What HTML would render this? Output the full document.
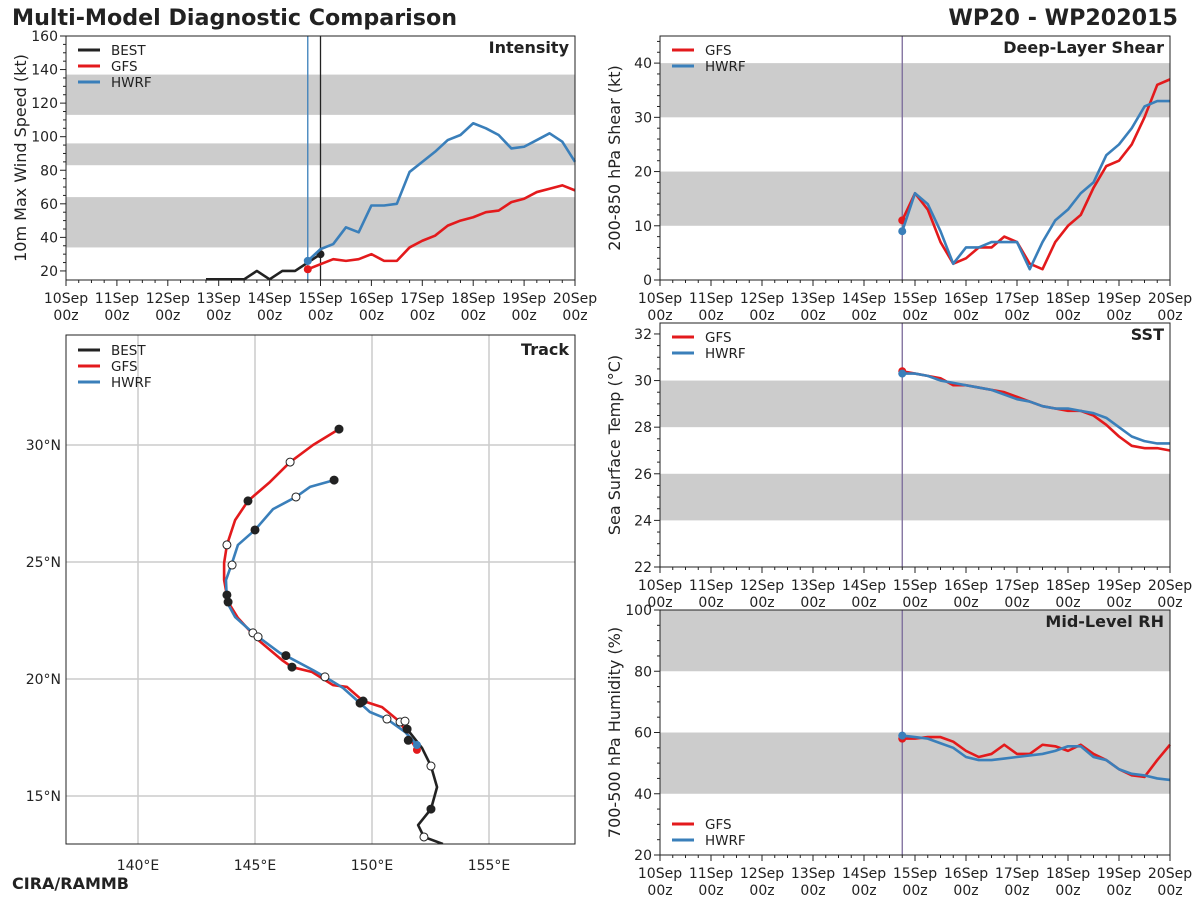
<!DOCTYPE html>
<html><head><meta charset="utf-8">
<style>
body{margin:0;background:#fff;}
svg{display:block;font-family:"DejaVu Sans","Liberation Sans",sans-serif;}
</style></head>
<body>
<svg id="chart" width="1200" height="900" viewBox="0 0 1200 900" xmlns="http://www.w3.org/2000/svg">
<text x="12" y="25" font-size="22.2" font-weight="bold" fill="#222">Multi-Model Diagnostic Comparison</text>
<text x="1178" y="25" font-size="22.2" font-weight="bold" fill="#222" text-anchor="end">WP20 - WP202015</text>
<text x="12" y="889" font-size="16" font-weight="bold" fill="#222">CIRA/RAMMB</text>
</svg>
<script>
// ---- data ----
const dayLabels=["10Sep","11Sep","12Sep","13Sep","14Sep","15Sep","16Sep","17Sep","18Sep","19Sep","20Sep"];
const bestT=[2.75,3.0,3.25,3.5,3.75,4.0,4.25,4.5,4.75,5.0];
const bestV=[15,15,15,15,20,15,20,20,25,30];
const modelT0=4.75;
const gfsInt=[21,24,27,26,27,30,26,26,34,38,41,47,50,52,55,56,61,63,67,69,71,68];
const hwrfInt=[26,33,36,46,43,59,59,60,79,85,91,98,101,108,105,101,93,94,98,102,97,85];
const gfsShear=[11,16,13,7,3,4,6,6,8,7,3,2,7,10,12,17,21,22,25,30,36,37];
const hwrfShear=[9,16,14,9,3,6,6,7,7,7,2,7,11,13,16,18,23,25,28,32,33,33];
const gfsSST=[30.4,30.3,30.2,30.1,29.8,29.8,29.7,29.6,29.5,29.3,29.1,28.9,28.8,28.7,28.7,28.5,28.1,27.6,27.2,27.1,27.1,27.0];
const hwrfSST=[30.3,30.3,30.2,30.0,29.9,29.8,29.7,29.6,29.4,29.2,29.1,28.9,28.8,28.8,28.7,28.6,28.4,28.0,27.6,27.4,27.3,27.3];
const gfsRH=[58,58,58.5,58.5,57,54,52,53,56,53,53,56,55.5,54,56,53,51,48,46,45.5,51,56];
const hwrfRH=[59,58.5,58,56.5,55,52,51,51,51.5,52,52.5,53,54,55.5,55.5,52,51,48,46.5,46,45,44.5];
const gfsLon=[151.92,151.20,150.43,149.62,148.93,148.33,147.44,146.58,146.15,145.13,144.27,143.85,143.68,143.68,143.80,144.15,144.70,145.64,146.50,147.48,148.59];
const gfsLat=[16.97,18.16,18.80,19.06,19.66,19.74,20.30,20.51,20.81,21.67,22.61,23.29,24.23,24.96,25.73,26.79,27.61,28.42,29.27,30.00,30.68];
const hwrfLon=[151.92,151.41,150.64,149.91,149.49,148.76,147.99,147.48,146.50,146.07,144.91,144.15,143.80,143.76,144.02,144.27,145.00,145.77,146.75,147.35,148.38];
const hwrfLat=[17.18,17.74,18.29,18.59,18.97,19.62,20.09,20.38,20.90,21.11,21.97,22.65,23.29,24.23,24.96,25.73,26.37,27.26,27.78,28.21,28.50];
const bestLon=[153.03,152.22,151.97,152.52,152.78,152.52,152.14,151.50];
const bestLat=[12.95,13.25,13.76,14.44,15.38,16.28,17.05,17.86];
const mkLon=[148.59,146.50,144.70,143.80,143.85,144.91,146.58,149.62,151.20,151.55, 148.38,146.75,145.00,144.02,143.80,145.13,146.32,147.99,149.49,150.64,151.41, 152.22,152.52,152.52,151.50];
const mkLat=[30.68,29.27,27.61,25.73,23.29,21.97,20.51,19.06,18.16,17.38, 28.50,27.78,26.37,24.87,23.59,21.80,21.00,20.09,18.97,18.29,18.20, 13.25,14.44,16.28,17.86];
const mkFill=[1,0,1,0,1,0,1,1,0,1, 1,0,1,0,1,0,1,0,1,0,0, 0,1,0,1];

const NS="http://www.w3.org/2000/svg";
const svg=document.getElementById('chart');
function el(tag,attrs,parent){const e=document.createElementNS(NS,tag);for(const k in attrs)e.setAttribute(k,attrs[k]);(parent||svg).appendChild(e);return e;}
const RED="#e31a1c",BLUE="#3a7fba",BLK="#222";

function timePanel(p){
  const g=el('g',{});
  
  
  const X=t=>p.x0+(p.x1-p.x0)*t/10;
  const Y=v=>p.y1-(p.y1-p.y0)*(v-p.ymin)/(p.ymax-p.ymin);
  p.bands.forEach(b=>{
    const r=el('rect',{x:p.x0,y:Y(Math.min(b[1],p.ymax)),width:p.x1-p.x0,height:Y(b[0])-Y(Math.min(b[1],p.ymax)),fill:"#cccccc"},g);
    
    
  });
  for(let i=0;i<=40;i++){const x=X(i/4);el('line',{x1:x,x2:x,y1:p.y1,y2:p.y1+(i%4?3:6),stroke:BLK,'stroke-width':1},g);}
  dayLabels.forEach((d,i)=>{
    const t=el('text',{x:X(i),y:p.y1+23,'font-size':14,'text-anchor':'middle',fill:BLK},g);
    
    
    t.textContent=d;
    const t2=el('text',{x:X(i),y:p.y1+40,'font-size':14,'text-anchor':'middle',fill:BLK},g);t2.textContent="00z";
  });
  for(let v=p.ymin0;v<=p.ymax+1e-6;v+=p.minor){const y=Y(v);const isMaj=Math.abs(((v-p.ymin0)/p.major)-Math.round((v-p.ymin0)/p.major))<1e-6;el('line',{x1:p.x0,x2:p.x0-(isMaj?6:3),y1:y,y2:y,stroke:BLK},g);}
  for(let v=p.ymin0;v<=p.ymax+1e-6;v+=p.major){
    const t=el('text',{x:p.x0-8,y:Y(v)+5,'font-size':14,'text-anchor':'end',fill:BLK},g);
    
    
    t.textContent=v;
  }
  const yt=el('text',{x:0,y:0,'font-size':16,'text-anchor':'middle',fill:BLK,transform:`translate(${p.x0-40},${(p.y0+p.y1)/2}) rotate(-90)`},g);
  
  
  yt.textContent=p.ytitle;
  (p.vlines||[]).forEach(v=>el('line',{x1:X(v[0]),x2:X(v[0]),y1:p.y0,y2:p.y1,stroke:v[1],'stroke-width':1.3},g));
  p.series.forEach(s=>{
    const pts=s.v.map((v,i)=>X((s.t?s.t[i]:modelT0+i*0.25))+","+Y(v)).join(" ");
    const pl=el('polyline',{points:pts,fill:'none',stroke:s.c,'stroke-width':2.6,'stroke-linejoin':'round'},g);
    
    
    const i0=s.dotEnd?s.v.length-1:0;
    el('circle',{cx:X(s.t?s.t[i0]:modelT0),cy:Y(s.v[i0]),r:4,fill:s.c},g);
  });
  el('rect',{x:p.x0,y:p.y0,width:p.x1-p.x0,height:p.y1-p.y0,fill:'none',stroke:BLK,'stroke-width':1},g);
  const tt=el('text',{x:p.x1-6,y:p.y0+17,'font-size':16,'font-weight':'bold','text-anchor':'end',fill:BLK},g);
  
  
  tt.textContent=p.title;
  const ly=p.legY||p.y0+14;
  p.series.forEach((s,i)=>{
    el('line',{x1:p.x0+12,x2:p.x0+34,y1:ly+i*16,y2:ly+i*16,stroke:s.c,'stroke-width':3},g);
    const lt=el('text',{x:p.x0+45,y:ly+i*16+5,'font-size':13.5,fill:BLK},g);
    
    
    lt.textContent=s.n.toUpperCase();
  });
}
timePanel({name:'intensity',x0:66,x1:575,y0:36,y1:280,ymin:14.6,ymax:160,ymin0:20,major:20,minor:5,bands:[[34,64],[83,96],[113,137]],
  ytitle:"10m Max Wind Speed (kt)",title:"Intensity",vlines:[[4.75,BLUE],[5.0,BLK]],
  series:[{n:'best',c:BLK,v:bestV,t:bestT,dotEnd:true},{n:'gfs',c:RED,v:gfsInt},{n:'hwrf',c:BLUE,v:hwrfInt}]});
timePanel({name:'shear',x0:660,x1:1170,y0:36,y1:280,ymin:0,ymax:45,ymin0:0,major:10,minor:2,bands:[[10,20],[30,40]],
  ytitle:"200-850 hPa Shear (kt)",title:"Deep-Layer Shear",vlines:[[4.75,"#7a6a9a"]],
  series:[{n:'gfs',c:RED,v:gfsShear},{n:'hwrf',c:BLUE,v:hwrfShear}]});
timePanel({name:'sst',x0:660,x1:1170,y0:323,y1:567,ymin:22,ymax:32.47,ymin0:22,major:2,minor:0.5,bands:[[24,26],[28,30]],
  ytitle:"Sea Surface Temp (°C)",title:"SST",vlines:[[4.75,"#7a6a9a"]],
  series:[{n:'gfs',c:RED,v:gfsSST},{n:'hwrf',c:BLUE,v:hwrfSST}]});
timePanel({name:'rh',x0:660,x1:1170,y0:610,y1:855,ymin:20,ymax:100,ymin0:20,major:20,minor:5,bands:[[40,60],[80,100]],
  ytitle:"700-500 hPa Humidity (%)",title:"Mid-Level RH",vlines:[[4.75,"#7a6a9a"]],legY:824,
  series:[{n:'gfs',c:RED,v:gfsRH},{n:'hwrf',c:BLUE,v:hwrfRH}]});

// ---- track ----
(function(){
  const g=el('g',{});
  
  
  const X0=66,X1=575,Y0=335,Y1=844;
  const X=lon=>138+(lon-140)*23.4, Y=lat=>445-(lat-30)*23.4;
  const cp=el('clipPath',{id:'tc'},g);el('rect',{x:X0,y:Y0,width:X1-X0,height:Y1-Y0},cp);
  [140,145,150,155].forEach(l=>{el('line',{x1:X(l),x2:X(l),y1:Y0,y2:Y1,stroke:"#cccccc",'stroke-width':1.5},g);
    const t=el('text',{x:X(l),y:Y1+26,'font-size':14,'text-anchor':'middle',fill:BLK},g);
    
    
    t.textContent=l+"°E";});
  [15,20,25,30].forEach(l=>{el('line',{x1:X0,x2:X1,y1:Y(l),y2:Y(l),stroke:"#cccccc",'stroke-width':1.5},g);
    const t=el('text',{x:61,y:Y(l)+5,'font-size':14,'text-anchor':'end',fill:BLK},g);
    
    
    t.textContent=l+"°N";});
  const cg=el('g',{'clip-path':'url(#tc)'},g);
  [[bestLon,bestLat,BLK,'best'],[gfsLon,gfsLat,RED,'gfs'],[hwrfLon,hwrfLat,BLUE,'hwrf']].forEach(s=>{
    const pl=el('polyline',{points:s[0].map((l,i)=>X(l)+","+Y(s[1][i])).join(" "),fill:'none',stroke:s[2],'stroke-width':2.6,'stroke-linejoin':'round'},cg);
    
    
  });
  el('circle',{cx:X(gfsLon[0]),cy:Y(gfsLat[0]),r:4,fill:RED},cg);
  el('circle',{cx:X(hwrfLon[0]),cy:Y(hwrfLat[0]),r:4,fill:BLUE},cg);
  mkLon.forEach((l,i)=>{const c=el('circle',{cx:X(l),cy:Y(mkLat[i]),r:4,fill:mkFill[i]?BLK:'#fff',stroke:BLK,'stroke-width':1},cg);
    
    });
  el('rect',{x:X0,y:Y0,width:X1-X0,height:Y1-Y0,fill:'none',stroke:BLK},g);
  const tt=el('text',{x:X1-6,y:Y0+20,'font-size':16,'font-weight':'bold','text-anchor':'end',fill:BLK},g);
  
  
  tt.textContent="Track";
  [['BEST',BLK],['GFS',RED],['HWRF',BLUE]].forEach((s,i)=>{
    el('line',{x1:X0+12,x2:X0+34,y1:Y0+15+i*16,y2:Y0+15+i*16,stroke:s[1],'stroke-width':3},g);
    const lt=el('text',{x:X0+45,y:Y0+20+i*16,'font-size':13.5,fill:BLK},g);
    
    
    lt.textContent=s[0];
  });
})();
</script>
</body></html>
